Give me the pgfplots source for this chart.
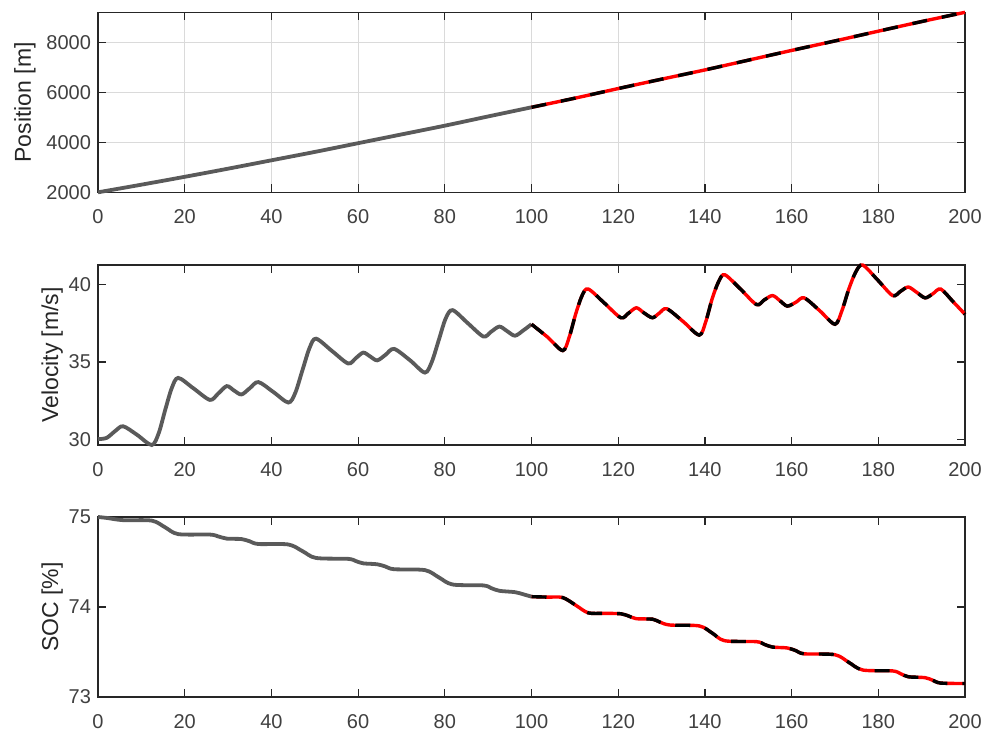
\documentclass[border=0pt]{standalone}
\usepackage{fontspec}
\setmainfont{Liberation Sans}
\usepackage{pgfplots}
\usepackage{pgfplotstable}
\pgfplotsset{compat=1.18}

\definecolor{axgray}{RGB}{38,38,38}
\definecolor{tickgray}{RGB}{64,64,64}
\definecolor{linegray}{RGB}{90,90,90}
\definecolor{gridgray}{RGB}{218,218,218}

% position [m]
\pgfplotstableread{
t pos
0 2000
10 2305
20 2620
30 2945
40 3280
50 3615
60 3965
70 4315
80 4665
90 5035
100 5400
}\posA
\pgfplotstableread{
t pos
100 5400
110 5765
120 6150
130 6525
140 6895
150 7285
160 7675
170 8055
180 8445
190 8830
200 9200
}\posB

% velocity [m/s]
\pgfplotstableread{
t v
0 30.02
2 30.1
4 30.55
5.8 30.85
9 30.3
12.4 29.64
14 30.4
15.5 31.9
17 33.3
18.5 33.97
22 33.3
25.8 32.55
27.7 32.95
29.7 33.44
31.4 33.15
33.1 32.9
35 33.3
37 33.7
40.5 33.05
43.9 32.38
45.5 33.0
47.2 34.5
48.8 35.9
50.3 36.5
54 35.7
57.7 34.9
59.5 35.25
61.2 35.6
62.8 35.35
64.4 35.1
66.3 35.45
68.3 35.84
72 35.1
75.4 34.31
77 35.0
78.6 36.4
80.2 37.8
81.8 38.34
85.3 37.5
88.9 36.64
90.7 36.95
92.6 37.28
94.4 36.98
96.2 36.69
98.2 37.05
100 37.43
}\velA
\pgfplotstableread{
t v
100 37.43
103.7 36.6
107.2 35.73
108.7 36.6
110.2 38.1
111.7 39.3
113.1 39.7
116.8 38.8
120.6 37.85
122.4 38.15
124.2 38.49
126 38.15
127.9 37.85
129.5 38.15
131.2 38.43
135 37.6
138.7 36.73
140.2 37.6
141.7 39.1
143.2 40.2
144.6 40.62
148.2 39.7
151.9 38.7
153.7 39.0
155.6 39.28
157.3 38.95
159 38.6
161 38.85
162.9 39.13
166.5 38.3
170 37.43
171.6 38.3
173.2 39.7
174.8 40.8
176.4 41.25
179.8 40.3
183.3 39.28
185.1 39.55
186.9 39.83
188.8 39.5
190.8 39.13
192.6 39.4
194.4 39.7
197.2 38.9
200 38.07
}\velB

% state of charge [%]
\pgfplotstableread{
t soc
0 75.0
2 74.99
5.8 74.965
12.4 74.96
15.5 74.885
18.5 74.81
25.8 74.805
27.7 74.785
29.7 74.76
33.1 74.755
35 74.73
37 74.70
43.9 74.695
47.2 74.62
50.3 74.545
57.7 74.535
59.5 74.51
61.2 74.485
64.4 74.475
66.3 74.45
68.3 74.42
75.4 74.41
78.6 74.33
81.8 74.25
88.9 74.24
90.7 74.21
92.6 74.18
96.2 74.165
98.2 74.14
100 74.115
}\socA
\pgfplotstableread{
t soc
100 74.115
103.7 74.11
107.2 74.105
110.2 74.02
113.1 73.935
116.8 73.93
120.6 73.925
122.4 73.90
124.2 73.87
127.9 73.865
129.5 73.835
131.9 73.80
138.7 73.79
141.7 73.71
144.6 73.625
151.9 73.615
153.7 73.585
155.6 73.555
159 73.545
161 73.515
162.9 73.48
170 73.47
173.2 73.385
176.4 73.30
183.3 73.29
185.1 73.26
186.9 73.225
190.8 73.215
192.6 73.185
194.4 73.155
200 73.15
}\socB

\pgfplotsset{
  panel/.style={
    scale only axis, width=433.5pt, height=90pt,
    xmin=0, xmax=200, xtick={0,20,...,200},
    tick align=inside, major tick length=4pt,
    axis line style={axgray, line width=0.6pt},
    every tick/.style={axgray, line width=0.6pt},
    tick label style={font=\fontsize{10}{12}\selectfont, text=tickgray},
    /pgf/number format/assume math mode=true,
    /pgf/number format/1000 sep={},
    scaled ticks=false,
    xticklabel style={yshift=-5pt},
    label style={font=\fontsize{11.5}{13}\selectfont, text=axgray},
    ylabel style={yshift=-1.5pt},
    clip=false,
  },
  gline/.style={linegray, line width=1.9pt, smooth, tension=0.5},
  rline/.style={red, line width=1.7pt, smooth, tension=0.5},
  kline/.style={black, line width=1.7pt, dash pattern=on 7.5pt off 7.5pt, smooth, tension=0.5},
}

\begin{document}
\begin{tikzpicture}
\begin{axis}[panel, name=top, at={(0,0)}, anchor=north west,
    ymin=2000, ymax=9200, ytick={2000,4000,6000,8000},
    grid=major, grid style={gridgray, line width=0.5pt},
    ylabel={Position [m]}]
\addplot[gline] table[x=t, y=pos] {\posA};
\addplot[rline] table[x=t, y=pos] {\posB};
\addplot[kline] table[x=t, y=pos] {\posB};
\end{axis}

\begin{axis}[panel, at={(0,-126.35pt)}, anchor=north west,
    ymin=29.64, ymax=41.25, ytick={30,35,40},
    ylabel style={yshift=-2.5pt},
    ylabel={Velocity [m/s]}]
\addplot[gline] table[x=t, y=v] {\velA};
\addplot[rline] table[x=t, y=v] {\velB};
\addplot[kline] table[x=t, y=v] {\velB};
\end{axis}

\begin{axis}[panel, at={(0,-252.35pt)}, anchor=north west,
    ymin=73, ymax=75, ytick={73,74,75},
    ylabel style={yshift=-2.5pt},
    ylabel={SOC [\%]}]
\addplot[gline] table[x=t, y=soc] {\socA};
\addplot[rline] table[x=t, y=soc] {\socB};
\addplot[kline] table[x=t, y=soc] {\socB};
\end{axis}

\pgfresetboundingbox
\path[use as bounding box] (-49pt,6.15pt) rectangle (445.5pt,-361.35pt);
\end{tikzpicture}
\end{document}
